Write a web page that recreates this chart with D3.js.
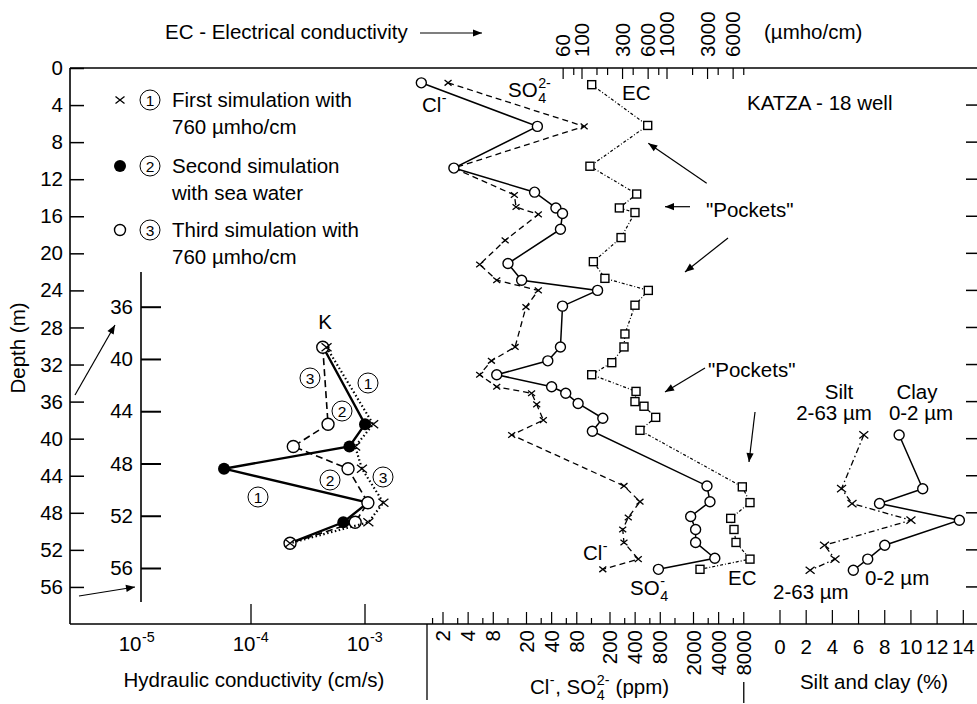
<!DOCTYPE html>
<html><head><meta charset="utf-8">
<script src="https://cdn.jsdelivr.net/npm/d3@7"></script>
<style>
body{margin:0;background:#fff}
text{font-family:"Liberation Sans",Arial,Helvetica,sans-serif;fill:#000;white-space:pre}
</style>
</head><body>
<svg id="c" width="977" height="704"></svg>
<script>
// ---------------- DATA ----------------
const depthTicks = [0,4,8,12,16,20,24,28,32,36,40,44,48,52,56];
const insetTicks = [36,40,44,48,52,56];
const ecTicksMajor = [60,100,300,600,1000,3000,6000];
const ecTicksMinor = [80,150,200,400,800,2000,4000,8000];
const ppmTicksMajor = [2,4,8,20,40,80,200,400,800,2000,4000,8000];
const ppmTicksMinor = [1.5,3,6,12,30,60,120,300,600,1200,3000,6000];
const pctTicks = [0,2,4,6,8,10,12,14];
const kTicks = [1e-5,1e-4,1e-3];

// Chloride (open circles, solid)
const clDepth = [1.6,6.3,10.8,13.4,15.1,15.7,17.4,21.1,22.9,24.0,25.7,30.1,31.6,33.1,34.4,35.1,36.2,37.8,39.2,45.1,46.8,48.4,49.8,51.2,52.9,54.1];
const clPpm   = [1.1,27,2.7,25,45,54,51,12,17.5,142,54,51,36,8.8,40,59,83,164,123,2900,3150,1850,2120,2120,3600,760];
// Sulphate (x, dashed)
const so4Depth = [1.6,6.3,10.8,13.7,15.0,15.8,18.6,21.2,22.9,24.0,25.8,30.1,31.6,33.1,34.4,35.1,36.3,38.0,39.6,45.1,46.8,48.5,49.8,51.2,53.0,54.1];
const so4Ppm   = [2.3,98,2.7,14.3,15,27.7,11.1,5.5,8.8,27.7,19.7,14.6,7.6,5.5,8.8,23,26.5,31.8,13.3,294,457,331,284,294,436,164];
// Electrical conductivity (squares, dotted)
const ecDepth = [1.8,6.2,10.6,13.6,15.1,15.6,18.3,20.9,22.7,24.0,25.6,28.7,30.1,31.8,33.1,34.9,36.0,36.5,37.7,39.1,45.2,46.9,48.6,49.8,51.2,53.0,54.1];
const ecVal   = [130,593,124,440,275,420,288,136,186,603,420,320,312,224,130,432,420,536,736,481,7690,9470,5615,6140,6485,9470,2445];
// Silt and clay (%)
const scDepth = [39.6,45.4,47.0,48.8,51.5,53.0,54.2];
const siltPct = [6.4,4.7,5.5,10.0,3.4,4.2,2.3];
const clayPct = [9.1,10.9,7.6,13.7,8.0,6.7,5.6];
// Hydraulic conductivity (cm/s), inset depths
const kDepth = [39.1,45.0,46.7,48.4,51.0,52.5,54.1];
const kSim1 = [4.6e-4,1.18e-3,8.2e-4,9.4e-4,1.45e-3,1.07e-3,2.2e-4];
const kSim2 = [4.3e-4,1.0e-3,7.3e-4,5.8e-5,1.06e-3,6.45e-4,2.2e-4];
const kSim3 = [4.26e-4,4.74e-4,2.35e-4,7.1e-4,1.06e-3,8.2e-4,2.2e-4];

// ---------------- SCALES ----------------
const svg = d3.select('#c');
const yD  = d3.scaleLinear().domain([0,60]).range([68,624]);
const yIn = d3.scaleLinear().domain([36,56]).range([306.7,568]);
const xK  = d3.scaleLog().domain([1e-4,1e-3]).range([251,365]);
const xPPM= d3.scaleLog().domain([2,20]).range([443,526.5]);
const xEC = d3.scaleLog().domain([100,1000]).range([582,667]);
const xPct= d3.scaleLinear().domain([0,14]).range([780,963.3]);
const FS = 20.5;

const defs = svg.append('defs');
defs.append('marker').attr('id','ah').attr('viewBox','0 0 10 10').attr('refX',10).attr('refY',5)
  .attr('markerWidth',11).attr('markerHeight',9).attr('markerUnits','userSpaceOnUse').attr('orient','auto')
  .append('path').attr('d','M0,1 L10,5 L0,9 Z').attr('fill','#000');

function rich(parent,x,y,segs,fs,anchor){
  const g = parent.append('g');
  let cx = 0;
  segs.forEach(s=>{
    if (s.n!==undefined){
      const t=g.append('text').attr('x',cx).attr('y',0).style('font-size',fs+'px').text(s.n);
      cx+=t.node().getComputedTextLength();
    } else {
      let w=0;
      if (s.sub!==undefined){const t=g.append('text').attr('x',cx+0.5).attr('y',fs*0.3).style('font-size',(fs*0.7)+'px').text(s.sub);w=Math.max(w,t.node().getComputedTextLength());}
      if (s.sup!==undefined){const t=g.append('text').attr('x',cx+0.5).attr('y',-fs*0.42).style('font-size',(fs*0.7)+'px').text(s.sup);w=Math.max(w,t.node().getComputedTextLength());}
      cx+=w+1;
    }
  });
  const dx = anchor==='middle'?-cx/2:anchor==='end'?-cx:0;
  g.attr('transform',`translate(${x+dx},${y})`);
  return g;
}
function txt(x,y,s,anchor,fs){
  return svg.append('text').attr('x',x).attr('y',y).attr('text-anchor',anchor||'start').style('font-size',(fs||FS)+'px').text(s);
}
function circNum(x,y,n){
  svg.append('circle').attr('cx',x).attr('cy',y).attr('r',10).attr('fill','#fff').attr('stroke','#000').attr('stroke-width',1);
  svg.append('text').attr('x',x).attr('y',y+5.5).attr('text-anchor','middle').style('font-size','15.5px').text(n);
}
function arrow(x1,y1,x2,y2){
  svg.append('line').attr('x1',x1).attr('y1',y1).attr('x2',x2).attr('y2',y2)
    .attr('stroke','#000').attr('stroke-width',1.2).attr('marker-end','url(#ah)');
}
function mCircle(g,x,y,r){g.append('circle').attr('cx',x).attr('cy',y).attr('r',r||5).attr('fill','#fff').attr('stroke','#000').attr('stroke-width',1.4);}
function mDot(g,x,y,r){g.append('circle').attr('cx',x).attr('cy',y).attr('r',r||6).attr('fill','#000');}
function mSq(g,x,y){g.append('rect').attr('x',x-4).attr('y',y-4).attr('width',8).attr('height',8).attr('fill','#fff').attr('stroke','#000').attr('stroke-width',1.4);}
function mX(g,x,y,s){s=s||4;g.append('path').attr('d',`M${x-s},${y-s*0.8}L${x+s},${y+s*0.8}M${x-s},${y+s*0.8}L${x+s},${y-s*0.8}`).attr('stroke','#000').attr('stroke-width',1.3).attr('fill','none');}

function series(xs,ys,xScale,yScale,dash,width,marker){
  const g = svg.append('g');
  const pts = xs.map((v,i)=>[xScale(v),yScale(ys[i])]);
  g.append('path').attr('d',d3.line()(pts)).attr('fill','none').attr('stroke','#000')
    .attr('stroke-width',width).attr('stroke-dasharray',dash||null);
  pts.forEach(p=>marker(g,p[0],p[1]));
  return g;
}

// ---------------- FRAME & AXES ----------------
const frame = svg.append('g').attr('stroke','#000').attr('stroke-width',1.6).attr('fill','none');
frame.append('line').attr('x1',70).attr('y1',yD(0)).attr('x2',977).attr('y2',yD(0));
frame.append('line').attr('x1',70).attr('y1',yD(0)).attr('x2',70).attr('y2',yD(60));
frame.append('line').attr('x1',70).attr('y1',yD(60)).attr('x2',977).attr('y2',yD(60));

const la = svg.append('g').attr('transform','translate(70,0)')
  .call(d3.axisLeft(yD).tickValues(depthTicks).tickSizeInner(-14).tickSizeOuter(0).tickPadding(7));
la.select('.domain').remove();
la.selectAll('line').attr('stroke-width',1.5);
la.selectAll('text').style('font-size',FS+'px').attr('font-family',null);
svg.append('g').selectAll('line').data(depthTicks.slice(1)).join('line')
  .attr('x1',966).attr('x2',977).attr('y1',d=>yD(d)).attr('y2',d=>yD(d)).attr('stroke','#000').attr('stroke-width',1.5);

// top EC axis
svg.append('g').selectAll('line').data(ecTicksMajor).join('line')
  .attr('x1',d=>xEC(d)).attr('x2',d=>xEC(d)).attr('y1',yD(0)).attr('y2',yD(0)+11).attr('stroke','#000').attr('stroke-width',1.2);
svg.append('g').selectAll('line').data(ecTicksMinor).join('line')
  .attr('x1',d=>xEC(d)).attr('x2',d=>xEC(d)).attr('y1',yD(0)).attr('y2',yD(0)+7).attr('stroke','#000').attr('stroke-width',1.2);
svg.append('g').selectAll('text').data(ecTicksMajor).join('text')
  .attr('transform',d=>`translate(${xEC(d)},57) rotate(-90)`).attr('dy','0.35em')
  .style('font-size',FS+'px').text(d=>d);
txt(165,39,'EC - Electrical conductivity');
arrow(420,33,482,33);
txt(764,39,'(µmho/cm)');

// bottom ppm axis
svg.append('g').selectAll('line').data(ppmTicksMajor).join('line')
  .attr('x1',d=>xPPM(d)).attr('x2',d=>xPPM(d)).attr('y1',yD(60)).attr('y2',yD(60)-12).attr('stroke','#000').attr('stroke-width',1.2);
svg.append('g').selectAll('line').data(ppmTicksMinor).join('line')
  .attr('x1',d=>xPPM(d)).attr('x2',d=>xPPM(d)).attr('y1',yD(60)).attr('y2',yD(60)-6).attr('stroke','#000').attr('stroke-width',1.2);
svg.append('g').selectAll('text').data(ppmTicksMajor).join('text')
  .attr('transform',d=>`translate(${xPPM(d)},630) rotate(-90)`).attr('dy','0.35em').attr('text-anchor','end')
  .style('font-size',FS+'px').text(d=>d);
svg.append('line').attr('x1',427).attr('x2',427).attr('y1',yD(60)).attr('y2',700).attr('stroke','#000').attr('stroke-width',1.3);
svg.append('line').attr('x1',xPPM(8000)).attr('x2',xPPM(8000)).attr('y1',682).attr('y2',703).attr('stroke','#000').attr('stroke-width',1.3);
rich(svg,530,694,[{n:'Cl'},{sup:'-'},{n:', SO'},{sub:'4',sup:'2-'},{n:' (ppm)'}],FS,'start');

// bottom pct axis
svg.append('g').selectAll('line').data(pctTicks).join('line')
  .attr('x1',d=>xPct(d)).attr('x2',d=>xPct(d)).attr('y1',yD(60)).attr('y2',yD(60)-14).attr('stroke','#000').attr('stroke-width',1.2);
svg.append('g').selectAll('text').data(pctTicks).join('text')
  .attr('x',d=>xPct(d)).attr('y',654).attr('text-anchor','middle').style('font-size',FS+'px').text(d=>d);
txt(874,689,'Silt and clay (%)','middle');

// bottom K axis
svg.append('g').selectAll('line').data(kTicks.slice(1)).join('line')
  .attr('x1',d=>xK(d)).attr('x2',d=>xK(d)).attr('y1',yD(60)).attr('y2',yD(60)-20).attr('stroke','#000').attr('stroke-width',1.3);
kTicks.forEach(k=>{
  rich(svg,xK(k),651,[{n:'10'},{sup:String(Math.round(Math.log10(k)))}],FS,'middle');
});
txt(254,687,'Hydraulic conductivity (cm/s)','middle');

svg.append('text').attr('transform','translate(18,348) rotate(-90)').attr('dy','0.35em').attr('text-anchor','middle').style('font-size',FS+'px').text('Depth (m)');

// ---------------- INSET K PANEL ----------------
const ia = svg.append('g').attr('transform','translate(141,0)')
  .call(d3.axisLeft(yIn).tickValues(insetTicks).tickSizeInner(-20).tickSizeOuter(0).tickPadding(8));
ia.select('.domain').remove();
ia.selectAll('line').attr('stroke-width',2);
ia.selectAll('text').style('font-size',FS+'px').attr('font-family',null);
svg.append('line').attr('x1',141).attr('x2',141).attr('y1',yIn(33.35)).attr('y2',yIn(58.6)).attr('stroke','#000').attr('stroke-width',1.6);
arrow(75,395,115,325);
arrow(79,596,135,587);

series(kSim2,kDepth,xK,yIn,null,2.4,(g,x,y)=>mDot(g,x,y,6));
series(kSim3,kDepth,xK,yIn,'7,4',1.6,(g,x,y)=>mCircle(g,x,y,6));
series(kSim1,kDepth,xK,yIn,'1.5,2.5',2.2,(g,x,y)=>mX(g,x,y,5));
txt(325,329,'K','middle');
circNum(310,378,'3'); circNum(368,383,'1'); circNum(342,411,'2');
circNum(330,480,'2'); circNum(383,477,'3'); circNum(258,497,'1');

// ---------------- MIDDLE PANEL ----------------
series(so4Ppm,so4Depth,xPPM,yD,'6,4',1.3,(g,x,y)=>mX(g,x,y,3.5));
series(ecVal,ecDepth,xEC,yD,'3,2,1,2',1.2,mSq);
series(clPpm,clDepth,xPPM,yD,null,1.5,mCircle);

rich(svg,422,112,[{n:'Cl'},{sup:'-'}],FS,'start');
rich(svg,508,97,[{n:'SO'},{sub:'4',sup:'2-'}],FS,'start');
txt(622,100,'EC');
txt(747,110,'KATZA - 18 well');
txt(706,217,'"Pockets"');
txt(708,377,'"Pockets"');
arrow(706.7,183.3,648.3,143.3);
arrow(690,206.7,665,206.7);
arrow(728,238,685,272);
arrow(705,368,665,392);
arrow(755,412,749,462);
rich(svg,583,560,[{n:'Cl'},{sup:'-'}],FS,'start');
rich(svg,630,595,[{n:'SO'},{sub:'4',sup:'-'}],FS,'start');
txt(728,585,'EC');

// ---------------- SILT / CLAY ----------------
series(siltPct,scDepth,xPct,yD,'6,3,1.5,3',1.3,(g,x,y)=>mX(g,x,y,4.5));
series(clayPct,scDepth,xPct,yD,null,1.5,mCircle);
txt(839,399,'Silt','middle'); txt(834,420,'2-63 µm','middle');
txt(917,399,'Clay','middle'); txt(921,420,'0-2 µm','middle');
txt(865,585,'0-2 µm'); txt(773,599,'2-63 µm');

// ---------------- LEGEND ----------------
mX(svg,120,100,4.5); circNum(150,100,'1');
txt(172,107,'First simulation with'); txt(172,134,'760 µmho/cm');
mDot(svg,120,166,6); circNum(150,166,'2');
txt(172,173,'Second simulation'); txt(172,200,'with sea water');
mCircle(svg,120,230,5.5); circNum(150,230,'3');
txt(172,237,'Third simulation with'); txt(172,264,'760 µmho/cm');
</script>
</body></html>
